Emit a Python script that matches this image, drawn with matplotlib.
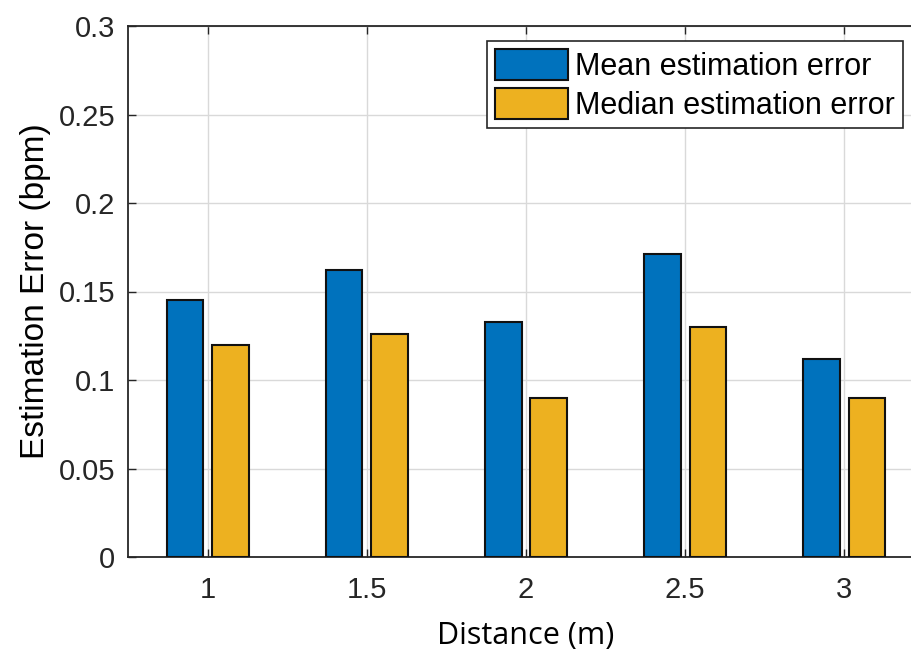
import numpy as np
import matplotlib.pyplot as plt

distances = [1, 1.5, 2, 2.5, 3]
tick_labels = ['1', '1.5', '2', '2.5', '3']
mean_err = [0.145, 0.162, 0.133, 0.171, 0.112]
median_err = [0.120, 0.126, 0.090, 0.130, 0.090]

fig = plt.figure(figsize=(9.12, 6.53), dpi=100)
ax = fig.add_axes([128 / 912, 96 / 653, 796 / 912, 531 / 653])

x = np.array(distances)
w = 0.115
off = 0.0714
ax.bar(x - off, mean_err, w, color='#0072BD', edgecolor='#111111', linewidth=1.5,
       label='Mean estimation error', zorder=3)
ax.bar(x + off, median_err, w, color='#EDB120', edgecolor='#111111', linewidth=1.5,
       label='Median estimation error', zorder=3)

ax.set_xlim(0.75, 3.25)
ax.set_ylim(0, 0.3)
ax.set_xticks(distances)
ax.set_xticklabels(tick_labels)
ax.set_yticks([0, 0.05, 0.1, 0.15, 0.2, 0.25, 0.3])
ax.set_yticklabels(['0', '0.05', '0.1', '0.15', '0.2', '0.25', '0.3'])
ax.grid(True, color='#d9d9d9', linewidth=1, zorder=0)
ax.set_axisbelow(True)
ax.tick_params(direction='in', length=6, width=1, colors='#262626',
               top=True, right=True, labelsize=21)
ax.tick_params(axis='y', pad=9)
ax.tick_params(axis='x', pad=14)
for lab in ax.get_xticklabels() + ax.get_yticklabels():
    lab.set_family('Liberation Sans')
    lab.set_color('#262626')
for s in ax.spines.values():
    s.set_color('#262626')
    s.set_linewidth(1.3)

ax.set_xlabel('Distance (m)', fontsize=22, family='Open Sans', labelpad=12)
ax.set_ylabel('Estimation Error (bpm)', fontsize=24, family='Liberation Sans', labelpad=6)

leg = ax.legend(loc='upper right', bbox_to_anchor=(903 / 796 - 128 / 796, 1 - 15 / 531),
                prop={'family': 'Liberation Sans', 'size': 22},
                fancybox=False, framealpha=1, edgecolor='#262626',
                handlelength=2.4, handleheight=1.2, handletextpad=0.25,
                borderpad=0.25, labelspacing=0.2, borderaxespad=0)
leg.get_frame().set_linewidth(1.2)

fig.savefig('out.png', dpi=100)
